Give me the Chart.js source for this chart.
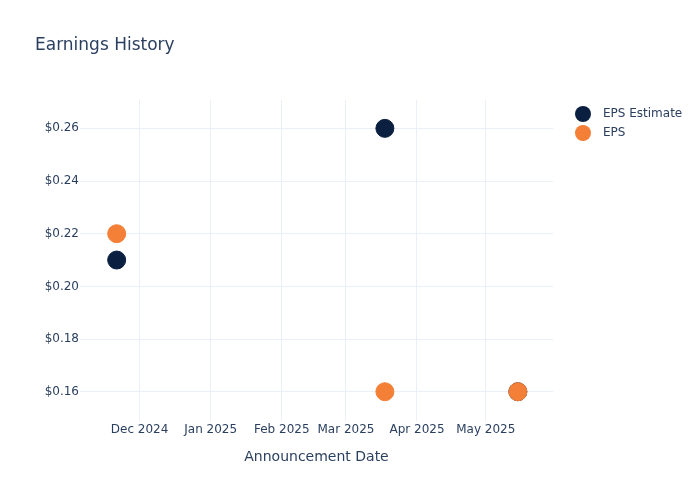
<!DOCTYPE html>
<html>
<head>
<meta charset="utf-8">
<script src="https://cdn.jsdelivr.net/npm/chart.js@4"></script>
<style>
  body { margin: 0; background: #fff; }
</style>
</head>
<body>
<canvas id="myChart" width="700" height="500"></canvas>
<script>
const ctx = document.getElementById('myChart');

// chart values
const dates = ['2024-11-21', '2025-03-18', '2025-05-15'];
const epsEstimate = [0.21, 0.26, 0.16];
const epsActual = [0.22, 0.16, 0.16];
const monthTicks = ['2024-12-01', '2025-01-01', '2025-02-01', '2025-03-01', '2025-04-01', '2025-05-01'];
const yTicks = [0.16, 0.18, 0.20, 0.22, 0.24, 0.26];
const monthNames = ['Jan', 'Feb', 'Mar', 'Apr', 'May', 'Jun', 'Jul', 'Aug', 'Sep', 'Oct', 'Nov', 'Dec'];

const textColor = '#2a3f5f';
const gridColor = '#EBF0F8';
const fontFamily = "'DejaVu Sans', Verdana, sans-serif";

function toPoints(values) {
    return values.map((v, i) => ({ x: Date.parse(dates[i]), y: v }));
}

// legend drawn by hand so the marker/text spacing matches
const sideLegend = {
    id: 'sideLegend',
    afterDraw(chart) {
        const c = chart.ctx;
        const x = chart.chartArea.right + 30;
        let y = chart.chartArea.top + 14;
        c.save();
        c.font = '12px ' + fontFamily;
        c.textBaseline = 'middle';
        c.textAlign = 'left';
        chart.data.datasets.forEach(ds => {
            c.beginPath();
            c.arc(x, y, 8, 0, Math.PI * 2);
            c.fillStyle = ds.backgroundColor;
            c.fill();
            c.fillStyle = textColor;
            c.fillText(ds.label, x + 20, y);
            y += 19;
        });
        c.restore();
    }
};

new Chart(ctx, {
    type: 'scatter',
    data: {
        datasets: [{
            label: 'EPS Estimate',
            data: toPoints(epsEstimate),
            backgroundColor: '#0b1f41',
            borderColor: '#0b1f41',
            borderWidth: 1,
            pointRadius: 9,
            order: 1
        }, {
            label: 'EPS',
            data: toPoints(epsActual),
            backgroundColor: '#f47f36',
            borderColor: '#f47f36',
            borderWidth: 1,
            pointRadius: 9,
            order: 0
        }]
    },
    options: {
        responsive: false,
        animation: false,
        layout: {
            padding: { left: 35, right: 147, top: 0, bottom: 34 }
        },
        plugins: {
            legend: { display: false },
            tooltip: { enabled: false },
            title: {
                display: true,
                text: 'Earnings History',
                align: 'start',
                color: textColor,
                font: { family: fontFamily, size: 17, weight: 'normal' },
                padding: { top: 35, bottom: 44.6 }
            }
        },
        scales: {
            x: {
                type: 'linear',
                min: Date.UTC(2024, 10, 5),
                max: Date.UTC(2025, 4, 30, 8),
                afterBuildTicks: scale => {
                    scale.ticks = monthTicks.map(d => ({ value: Date.parse(d) }));
                },
                ticks: {
                    color: textColor,
                    font: { family: fontFamily, size: 12 },
                    padding: 2,
                    maxRotation: 0,
                    autoSkip: false,
                    callback: v => {
                        const d = new Date(v);
                        return monthNames[d.getUTCMonth()] + ' ' + d.getUTCFullYear();
                    }
                },
                grid: { color: gridColor, drawTicks: false },
                border: { display: false },
                title: {
                    display: true,
                    text: 'Announcement Date',
                    color: textColor,
                    font: { family: fontFamily, size: 14 },
                    padding: { top: 10, bottom: 0 }
                }
            },
            y: {
                min: 0.14896,
                max: 0.27077,
                afterBuildTicks: scale => {
                    scale.ticks = yTicks.map(v => ({ value: v }));
                },
                afterFit: scale => {
                    scale.width = 45;
                },
                ticks: {
                    color: textColor,
                    font: { family: fontFamily, size: 12 },
                    padding: 1,
                    callback: v => '$' + v.toFixed(2)
                },
                grid: { color: gridColor, drawTicks: false },
                border: { display: false }
            }
        }
    },
    plugins: [sideLegend]
});
</script>
</body>
</html>
